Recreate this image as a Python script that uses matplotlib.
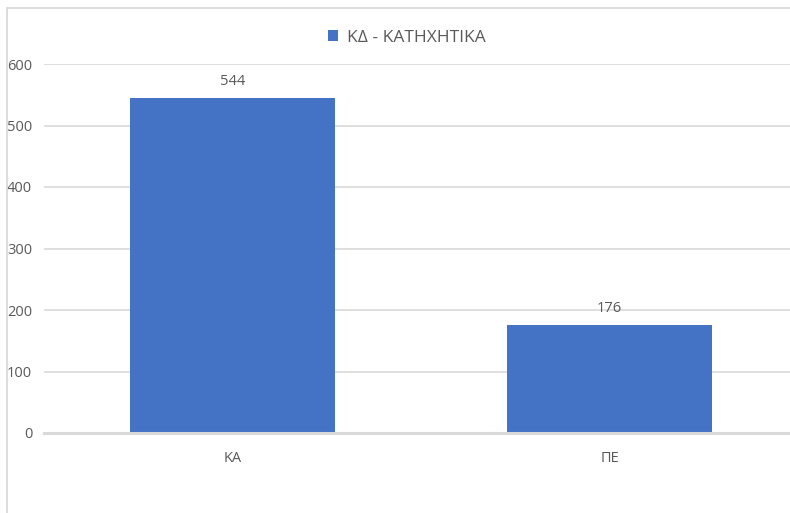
import matplotlib.pyplot as plt
from matplotlib.patches import Rectangle

# data
categories = ["ΚΑ", "ΠΕ"]
values = [544, 176]
series_name = "ΚΔ - ΚΑΤΗΧΗΤΙΚΑ"
yticks = [0, 100, 200, 300, 400, 500, 600]

BAR = "#4472C4"
TXT = "#595959"
GRID = "#D9D9D9"

plt.rcParams["font.family"] = ["Open Sans", "DejaVu Sans"]

W, H = 790, 513
fig = plt.figure(figsize=(W / 100, H / 100), dpi=100)

# outer chart border (only left and top edges fall inside the picture)
fig.patches.append(Rectangle((6.5 / W, -0.1), 1.2, 1.1 - 8.5 / H, transform=fig.transFigure,
                             fill=False, edgecolor=GRID, linewidth=1.3))

left, right = 44, 798
bottom, top = 433, 64
ax = fig.add_axes([left / W, 1 - bottom / H, (right - left) / W, (bottom - top) / H])

x = list(range(len(categories)))
ax.bar(x, values, width=0.544, color=BAR, label=series_name, zorder=3)
ax.set_xlim(-0.5, 1.5)
ax.set_ylim(0, 600)

for xi, v in zip(x, values):
    ax.annotate(str(v), (xi, v), xytext=(0, 6.5), textcoords="offset points",
                ha="center", va="bottom", fontsize=10.5, color=TXT)

ax.set_yticks(yticks)
ax.set_xticks(x)
ax.set_xticklabels(categories)
ax.tick_params(axis="both", length=0, labelsize=10.5, labelcolor=TXT)
ax.tick_params(axis="x", pad=13)
ax.tick_params(axis="y", pad=8.5)

ax.grid(axis="y", color=GRID, linewidth=1.2, zorder=0)
for s in ["top", "right", "left"]:
    ax.spines[s].set_visible(False)
ax.spines["bottom"].set_color(GRID)
ax.spines["bottom"].set_linewidth(2.2)
ax.spines["bottom"].set_zorder(4)

fig.legend(loc="center", bbox_to_anchor=(407 / W, 1 - 38 / H), frameon=False,
           fontsize=12.5, labelcolor=TXT, handlelength=0.6, handleheight=0.6,
           handletextpad=0.5)

fig.savefig("out.png", dpi=100)
